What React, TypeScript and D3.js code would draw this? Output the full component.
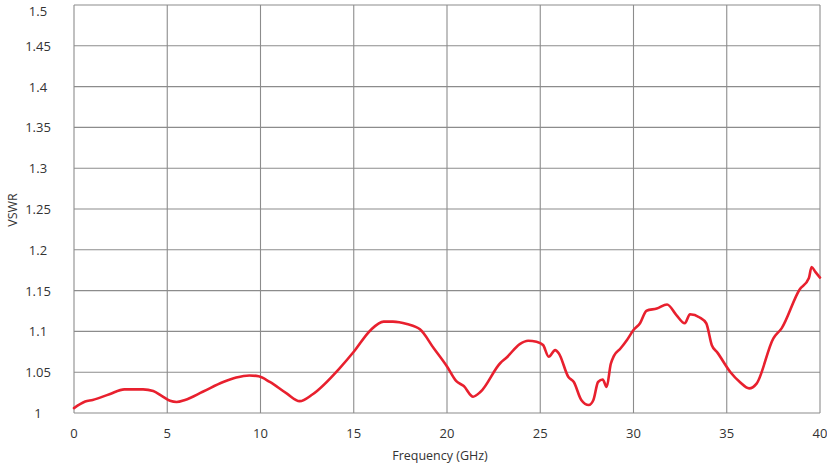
import React from "react";
import * as d3 from "d3";

const freq = [0, 0.6, 1.0, 1.9, 2.7, 3.7, 4.25, 4.7, 5.15, 5.5, 5.95, 6.9, 8.0, 8.7, 9.4, 9.9, 10.5, 11.4, 12.1, 12.8, 14.25, 15.0, 15.9, 16.6, 17.1, 17.85, 18.55, 19.3, 20.0, 20.5, 20.9, 21.4, 21.8, 22.85, 23.2, 23.9, 24.35, 24.8, 25.15, 25.45, 25.8, 26.0, 26.5, 26.8, 27.2, 27.6, 27.85, 28.1, 28.35, 28.56, 28.78, 28.95, 29.3, 29.65, 30.0, 30.35, 30.7, 31.25, 31.8, 32.3, 32.75, 33.03, 33.55, 33.9, 34.2, 34.5, 35.2, 35.7, 36.2, 36.6, 37.5, 37.95, 38.9, 39.4, 39.55, 39.75, 40.0];
const vswr = [1.006, 1.014, 1.016, 1.023, 1.029, 1.029, 1.027, 1.021, 1.015, 1.0135, 1.016, 1.026, 1.038, 1.0435, 1.046, 1.045, 1.038, 1.024, 1.0145, 1.023, 1.055, 1.075, 1.1015, 1.112, 1.112, 1.109, 1.1025, 1.079, 1.057, 1.039, 1.033, 1.02, 1.026, 1.061, 1.068, 1.0845, 1.0886, 1.0874, 1.0833, 1.069, 1.077, 1.073, 1.0445, 1.038, 1.016, 1.0098, 1.016, 1.038, 1.041, 1.032, 1.06, 1.07, 1.079, 1.0895, 1.1017, 1.11, 1.1254, 1.128, 1.133, 1.12, 1.11, 1.121, 1.117, 1.11, 1.083, 1.074, 1.05, 1.038, 1.0302, 1.036, 1.0915, 1.104, 1.151, 1.165, 1.179, 1.173, 1.166];

const xTicks = [0, 5, 10, 15, 20, 25, 30, 35, 40];
const yTicks = [1, 1.05, 1.1, 1.15, 1.2, 1.25, 1.3, 1.35, 1.4, 1.45, 1.5];
const yTickLabels = ["1", "1.05", "1.1", "1.15", "1.2", "1.25", "1.3", "1.35", "1.4", "1.45", "1.5"];

const W = 827;
const H = 465;
const left = 74;
const right = 820;
const top = 5;
const bottom = 413;

export default function App() {
  const x = d3.scaleLinear().domain([0, 40]).range([left, right]);
  const y = d3.scaleLinear().domain([1, 1.5]).range([bottom, top]);
  const pts: [number, number][] = freq.map((f, i) => [f, vswr[i]]);
  const line = d3
    .line<[number, number]>()
    .x((d) => x(d[0]))
    .y((d) => y(d[1]))
    .curve(d3.curveMonotoneX);
  const font = "'Open Sans', sans-serif";
  const grid = "#8c8c8c";
  return (
    <svg
      width={W}
      height={H}
      style={{ position: "absolute", left: 0, top: 0, background: "#fff" }}
      fontFamily={font}
    >
      {yTicks.map((t) => (
        <line key={"h" + t} x1={left} x2={right} y1={y(t)} y2={y(t)} stroke={grid} strokeWidth={1.1} />
      ))}
      {xTicks.map((t) => (
        <line key={"v" + t} x1={x(t)} x2={x(t)} y1={top} y2={bottom} stroke={grid} strokeWidth={1.1} />
      ))}
      {yTicks.map((t, i) => (
        <text
          key={"yl" + t}
          x={38}
          y={t === 1.5 ? 11 : y(t)}
          textAnchor="middle"
          dominantBaseline="central"
          fontSize={13}
          fill="#333"
        >
          {yTickLabels[i]}
        </text>
      ))}
      {xTicks.map((t) => (
        <text
          key={"xl" + t}
          x={x(t)}
          y={433}
          textAnchor="middle"
          dominantBaseline="central"
          fontSize={13}
          fill="#333"
        >
          {t}
        </text>
      ))}
      <text x={440} y={455} textAnchor="middle" dominantBaseline="central" fontSize={12.5} fill="#333">
        Frequency (GHz)
      </text>
      <text
        transform="translate(12,210) rotate(-90)"
        textAnchor="middle"
        dominantBaseline="central"
        fontSize={12.5}
        fill="#333"
      >
        VSWR
      </text>
      <path d={line(pts) || ""} fill="none" stroke="#e8202e" strokeWidth={2.6} strokeLinejoin="round" strokeLinecap="round" />
    </svg>
  );
}
